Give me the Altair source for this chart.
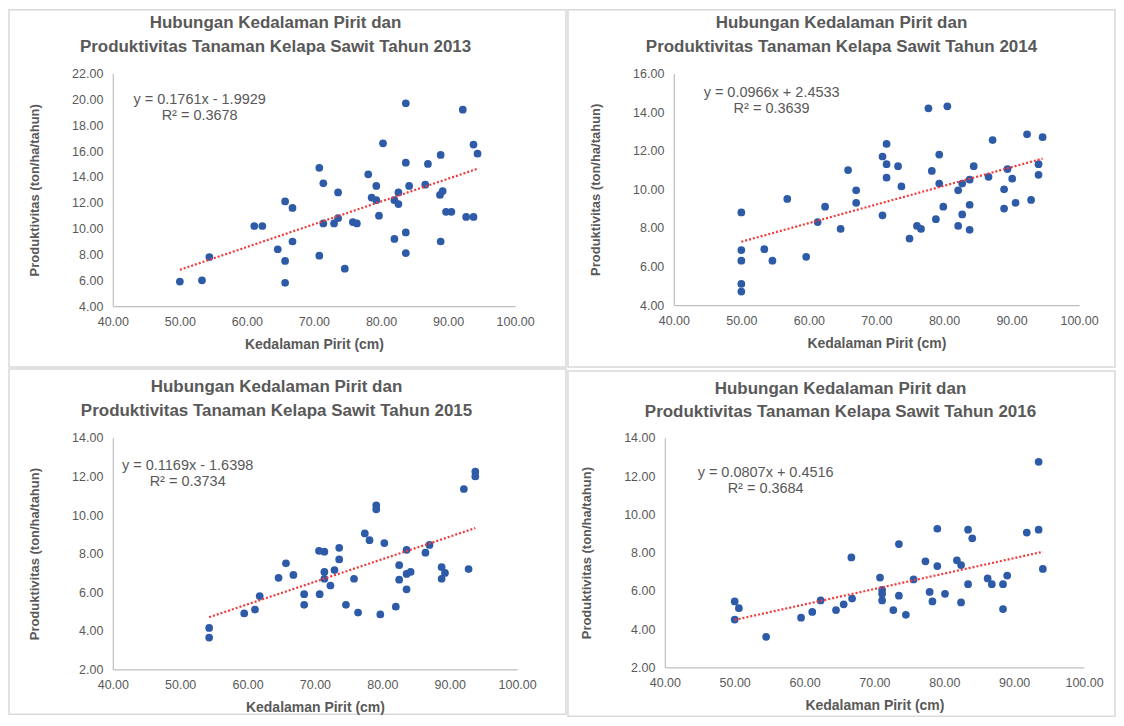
import altair as alt
import pandas as pd

# ---------------- data ----------------
x2013 = [50.0, 53.3, 54.4, 61.1, 62.3, 64.6, 65.7, 65.7, 65.7, 66.8, 66.8, 70.8, 70.8, 71.4, 71.4,
         73.0, 73.6, 73.6, 74.6, 75.8, 76.4, 78.1, 78.6, 79.3, 79.3, 79.7, 80.3, 82.0, 82.0, 82.6,
         82.6, 83.7, 83.7, 83.7, 83.7, 84.2, 86.6, 87.0, 88.8, 88.9, 88.9, 89.2, 89.7, 90.5, 92.2,
         92.7, 93.8, 93.8, 94.4]
y2013 = [5.9, 6.0, 7.8, 10.2, 10.2, 8.4, 12.1, 7.5, 5.8, 11.6, 9.0, 14.7, 7.9, 13.5, 10.4,
         10.4, 10.8, 12.8, 6.9, 10.5, 10.4, 14.2, 12.4, 12.2, 13.3, 11.0, 16.6, 12.2, 9.2, 12.8,
         11.9, 19.7, 15.1, 9.7, 8.1, 13.3, 13.4, 15.0, 12.6, 15.7, 9.0, 12.9, 11.3, 11.3, 19.2,
         10.9, 16.5, 10.9, 15.8]

x2014 = [50.0, 50.0, 50.0, 50.0, 50.0, 53.4, 54.6, 56.8, 59.6, 61.3, 62.4, 64.7, 65.8, 67.0, 67.0,
         70.9, 71.5, 70.9, 71.5, 71.5, 73.2, 73.7, 74.9, 76.0, 76.6, 77.7, 78.2, 78.8, 79.3, 79.3,
         79.9, 80.5, 82.1, 82.1, 82.7, 82.7, 83.8, 83.8, 83.8, 84.4, 86.6, 87.2, 88.9, 88.9, 89.4,
         90.1, 90.6, 92.3, 92.9, 94.0, 94.0, 94.6]
y2014 = [8.8, 6.85, 6.3, 5.1, 4.7, 6.9, 6.3, 9.5, 6.5, 8.3, 9.1, 7.95, 11.0, 9.95, 9.3,
         8.65, 12.35, 11.7, 11.3, 10.6, 11.2, 10.15, 7.45, 8.1, 7.95, 14.2, 10.95, 8.45, 11.8, 10.3,
         9.1, 14.3, 9.95, 8.1, 10.3, 8.7, 10.5, 9.2, 7.9, 11.2, 10.65, 12.55, 10.0, 9.0, 11.05,
         10.55, 9.3, 12.85, 9.45, 11.3, 10.75, 12.7]

x2015 = [54.3, 54.3, 59.5, 61.1, 61.8, 64.6, 65.7, 66.8, 68.4, 68.4, 70.6, 71.4, 70.7, 71.4, 71.4,
         72.3, 73.6, 73.6, 72.9, 75.8, 74.6, 76.4, 77.4, 78.1, 79.1, 79.1, 80.3, 79.7, 82.0, 82.5,
         82.5, 83.6, 83.6, 84.2, 83.6, 86.4, 87.0, 88.8, 89.3, 88.8, 92.8, 92.1, 93.8, 93.8]
y2015 = [4.15, 3.65, 4.9, 5.1, 5.8, 6.75, 7.5, 6.9, 5.9, 5.35, 8.15, 8.1, 5.9, 7.05, 6.7,
         6.35, 8.3, 7.7, 7.15, 6.7, 5.35, 4.95, 9.05, 8.7, 10.5, 10.3, 8.55, 4.85, 5.25, 7.4,
         6.65, 8.2, 6.95, 7.05, 6.15, 8.05, 8.45, 7.3, 7.0, 6.7, 7.2, 11.35, 12.25, 12.0]

x2016 = [50.0, 50.6, 50.0, 54.5, 59.5, 61.1, 62.3, 64.5, 65.6, 66.8, 66.7, 70.8, 71.1, 71.1, 71.1,
         72.7, 73.5, 73.5, 74.5, 75.6, 77.3, 77.9, 78.3, 79.0, 79.0, 80.1, 81.8, 82.4, 82.4, 83.4,
         84.0, 83.4, 86.2, 86.8, 88.4, 89.0, 88.4, 91.8, 93.5, 93.5, 94.1]
y2016 = [5.45, 5.1, 4.5, 3.6, 4.6, 4.9, 5.5, 5.0, 5.3, 5.6, 7.75, 6.7, 6.05, 5.85, 5.5,
         5.0, 5.75, 8.45, 4.75, 6.6, 7.55, 5.95, 5.45, 7.3, 9.25, 5.85, 7.6, 7.35, 5.4, 9.2,
         8.75, 6.35, 6.65, 6.35, 6.35, 6.8, 5.05, 9.05, 9.2, 12.75, 7.15]

xs = [x2013, x2014, x2015, x2016]
ys = [y2013, y2014, y2015, y2016]

slopes = [0.1761, 0.0966, 0.1169, 0.0807]
intercepts = [-1.9929, 2.4533, -1.6398, 0.4516]
eq_lines = ["y = 0.1761x - 1.9929", "y = 0.0966x + 2.4533",
            "y = 0.1169x - 1.6398", "y = 0.0807x + 0.4516"]
r2_lines = ["R² = 0.3678", "R² = 0.3639", "R² = 0.3734", "R² = 0.3684"]
title_line1 = "Hubungan Kedalaman Pirit dan"
title_line2 = ["Produktivitas Tanaman Kelapa Sawit Tahun 2013",
               "Produktivitas Tanaman Kelapa Sawit Tahun 2014",
               "Produktivitas Tanaman Kelapa Sawit Tahun 2015",
               "Produktivitas Tanaman Kelapa Sawit Tahun 2016"]
x_ticks = [40, 50, 60, 70, 80, 90, 100]
y_ticks = [[4, 6, 8, 10, 12, 14, 16, 18, 20, 22],
           [4, 6, 8, 10, 12, 14, 16],
           [2, 4, 6, 8, 10, 12, 14],
           [2, 4, 6, 8, 10, 12, 14]]
x_title = "Kedalaman Pirit (cm)"
y_title = "Produktivitas (ton/ha/tahun)"

# ---------------- layout / style ----------------
FONT = "Liberation Sans"
GRAY = "#595959"
BLUE = "#2E5BA8"
RED = "#F03A3A"
BORDER = "#D9D9D9"

# plot size, border rect (x1,x2,y1,y2 relative to plot), title center x, title ys, eq center, eq ys
layout = [
    dict(w=403, h=233, rect=(-104, 454, -64, 294), tx=163, ty=(-51, -27), ex=87, ey=(27, 43)),
    dict(w=406, h=232, rect=(-106, 442, -64, 294), tx=168, ty=(-51, -27), ex=98, ey=(20, 36)),
    dict(w=405, h=232, rect=(-104, 454, -69, 277), tx=164, ty=(-51, -27), ex=75, ey=(28, 44)),
    dict(w=420, h=230, rect=(-97, 451, -67, 279), tx=176, ty=(-49, -26), ex=101, ey=(35, 51)),
]

dummy = alt.Data(values=[{"k": 0}])


def panel(i):
    L = layout[i]
    df = pd.DataFrame({"x": xs[i], "y": ys[i]})
    xmin, xmax = min(xs[i]), max(xs[i])
    line_df = pd.DataFrame({"x": [xmin, xmax],
                            "y": [slopes[i] * xmin + intercepts[i], slopes[i] * xmax + intercepts[i]]})
    xsc = alt.Scale(domain=[40, 100], nice=False, zero=False)
    ysc = alt.Scale(domain=[y_ticks[i][0], y_ticks[i][-1]], nice=False, zero=False)
    xaxis = alt.Axis(values=x_ticks, format=".2f", title=x_title, grid=False, ticks=False,
                     domainColor="#BFBFBF", domainWidth=1.2, labelColor=GRAY, labelFontSize=12.5,
                     labelFont=FONT, labelFlush=False, labelOverlap=False, labelPadding=9,
                     titleFont=FONT, titleFontSize=14, titleFontWeight="bold", titleColor=GRAY,
                     titlePadding=10, zindex=1)
    yaxis = alt.Axis(values=y_ticks[i], format=".2f", title=y_title, grid=False, ticks=False,
                     domainColor="#BFBFBF", domainWidth=1.2, labelColor=GRAY, labelFontSize=12.5,
                     labelFont=FONT, labelOverlap=False, labelPadding=10,
                     titleFont=FONT, titleFontSize=13, titleFontWeight="bold", titleColor=GRAY,
                     titlePadding=30, zindex=1)

    x1, x2, y1, y2 = L["rect"]
    border = alt.Chart(dummy).mark_rect(fill="white", stroke=BORDER, strokeWidth=1.5).encode(
        x=alt.value(x1), x2=alt.value(x2), y=alt.value(y1), y2=alt.value(y2))

    pts = alt.Chart(df).mark_circle(size=60, color=BLUE, opacity=1).encode(
        x=alt.X("x:Q", scale=xsc, axis=xaxis),
        y=alt.Y("y:Q", scale=ysc, axis=yaxis))

    trend = alt.Chart(line_df).mark_line(color=RED, strokeWidth=2.2, strokeDash=[2, 2]).encode(
        x=alt.X("x:Q", scale=xsc, axis=xaxis), y=alt.Y("y:Q", scale=ysc, axis=yaxis))

    def txt(s, x, y, size, weight="normal"):
        return alt.Chart(dummy).mark_text(text=s, font=FONT, fontSize=size, fontWeight=weight,
                                          color=GRAY, align="center", baseline="middle").encode(
            x=alt.value(x), y=alt.value(y))

    t1 = txt(title_line1, L["tx"], L["ty"][0], 17, "bold")
    t2 = txt(title_line2[i], L["tx"], L["ty"][1], 17, "bold")
    e1 = txt(eq_lines[i], L["ex"], L["ey"][0], 14.5)
    e2 = txt(r2_lines[i], L["ex"], L["ey"][1], 14.5)

    return alt.layer(border, pts, trend, t1, t2, e1, e2).properties(width=L["w"], height=L["h"])


row1 = alt.hconcat(panel(0), panel(1), spacing=0)
row2 = alt.hconcat(panel(2), panel(3), spacing=0)
chart = alt.vconcat(row1, row2, spacing=0).properties(padding=0).configure_view(strokeWidth=0)

chart.save("out.html", embed_options={"renderer": "svg", "actions": False})
